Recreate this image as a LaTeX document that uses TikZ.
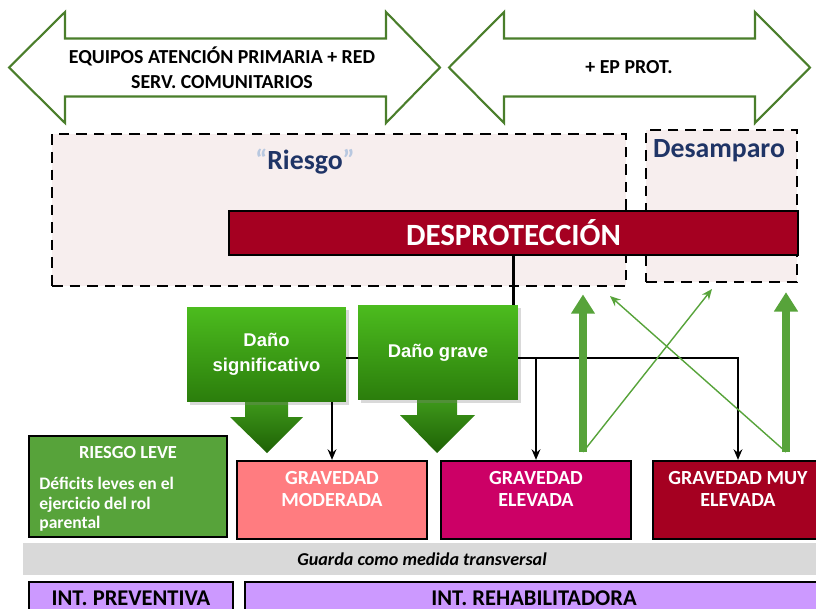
\documentclass[tikz,border=0pt]{standalone}
\usepackage{fontspec}
\setmainfont{Carlito}
\newfontfamily\arialfont{Liberation Sans}
\usepackage{tikz}
\usetikzlibrary{arrows.meta,shadows}

\definecolor{outgreen}{HTML}{4A7E2B}
\definecolor{leafgreen}{HTML}{57A33A}
\definecolor{darkred}{HTML}{A50021}
\definecolor{modpink}{HTML}{FF7C80}
\definecolor{elevpink}{HTML}{CC0066}
\definecolor{navy}{HTML}{1F3466}
\definecolor{quotecol}{HTML}{B8C8E0}
\definecolor{paleback}{HTML}{F7EEEE}
\definecolor{bandgrey}{HTML}{D9D9D9}
\definecolor{lavender}{HTML}{CC99FF}
\definecolor{danotop}{HTML}{4CBC1E}
\definecolor{danobot}{HTML}{2B7D0C}
\definecolor{arrtop}{HTML}{3F9A1B}
\definecolor{arrbot}{HTML}{1E6105}

\begin{document}
\begin{tikzpicture}[x=0.02cm,y=-0.02cm,
    bigarrow/.style={draw=outgreen,line width=1.2pt,fill=white},
    dashbox/.style={draw=black,fill=paleback,line width=1.6pt,dash pattern=on 6pt off 4pt},
    blackbox/.style={draw=black,line width=1.3pt},
    gravtext/.style={text=white,align=center,font=\bfseries\fontsize{11.4pt}{12.6pt}\selectfont}]
\clip (0,0) rectangle (816,609);

% top double arrows
\draw[bigarrow] (9,67.5) -- (65,12) -- (65,38.5) -- (386,38.5) -- (386,12) -- (440,67.5)
    -- (386,123) -- (386,96.5) -- (65,96.5) -- (65,123) -- cycle;
\draw[bigarrow] (449,67.5) -- (504,12) -- (504,38.5) -- (755,38.5) -- (755,12) -- (810,67.5)
    -- (755,123) -- (755,96.5) -- (504,96.5) -- (504,123) -- cycle;
\node[align=center,font=\bfseries\fontsize{11.3pt}{14pt}\selectfont] (equipos) at (222,67.5)
    {EQUIPOS ATENCIÓN PRIMARIA + RED\\SERV. COMUNITARIOS};
\node[font=\bfseries\fontsize{11.3pt}{14pt}\selectfont] (epprot) at (629,67.5) {+ EP PROT.};

% riesgo / desamparo
\node[dashbox,minimum width=11.48cm,minimum height=3.04cm] (riesgo) at (339,210) {};
\node[dashbox,minimum width=3.02cm,minimum height=3.04cm] (desamp) at (721.5,206) {};
\begin{scope}[every node/.style={text=navy,font=\bfseries\fontsize{15.8pt}{18pt}\selectfont}]
    \node (riesgotxt) at (305,162) {\textcolor{quotecol}{“}Riesgo\textcolor{quotecol}{”}};
    \node (desamptxt) at (719,151) {Desamparo};
\end{scope}
\node[blackbox,fill=darkred,text=white,minimum width=11.38cm,minimum height=0.88cm,
    font=\bfseries\fontsize{17.6pt}{20pt}\selectfont] (desprot) at (513.5,233) {DESPROTECCIÓN};

% block arrows under the damage boxes
\shade[top color=arrtop,bottom color=arrbot] (245,400) -- (288,400) -- (288,417) -- (303,417)
    -- (267,453) -- (230,417) -- (245,417) -- cycle;
\shade[top color=arrtop,bottom color=arrbot] (417,398) -- (457,398) -- (457,415) -- (475,415)
    -- (437,453) -- (400,415) -- (417,415) -- cycle;

\begin{scope}[every node/.style={top color=danotop,bottom color=danobot,
    drop shadow={opacity=0.3,shadow xshift=1.5pt,shadow yshift=-1.5pt},
    text=white,align=center,minimum height=1.9cm,font=\arialfont\bfseries\fontsize{10.5pt}{14pt}\selectfont}]
    \node[minimum width=3.18cm] (danosig) at (266.5,354.5) {Daño\\significativo};
    \node[minimum width=3.2cm] (danograve) at (438,352.5) {Daño grave};
\end{scope}

% severity boxes
\node[blackbox,fill=leafgreen,minimum width=3.96cm,minimum height=2.02cm] (leve) at (128,486.5) {};
\node[text=white,font=\bfseries\fontsize{10.5pt}{12pt}\selectfont] (levetit) at (128,453) {RIESGO LEVE};
\node[anchor=north west,inner sep=0pt,text=white,align=left,font=\bfseries\fontsize{10pt}{11pt}\selectfont]
    (levetxt) at (39,477) {Déficits leves en el\\ejercicio del rol\\parental};

\begin{scope}[every node/.style={blackbox,minimum width=3.8cm,minimum height=1.56cm}]
    \node[fill=modpink] (mod) at (332,500) {};
    \node[fill=elevpink] (elev) at (536,500) {};
    \node[fill=darkred,minimum width=3.4cm] (muy) at (738,500) {};
\end{scope}
\node[gravtext] (modtxt) at (332,489) {GRAVEDAD\\MODERADA};
\node[gravtext] (elevtxt) at (536,489) {GRAVEDAD\\ELEVADA};
\node[gravtext] (muytxt) at (738,489) {GRAVEDAD MUY\\ELEVADA};

% bottom bands
\node[fill=bandgrey,minimum width=15.96cm,minimum height=0.64cm,
    font=\bfseries\itshape\fontsize{10.3pt}{12pt}\selectfont] (guarda) at (422,559) {Guarda como medida transversal};
\begin{scope}[every node/.style={blackbox,fill=lavender,minimum height=0.64cm,
    font=\bfseries\fontsize{12.8pt}{14pt}\selectfont}]
    \node[minimum width=4.08cm] (prev) at (131,598) {INT. PREVENTIVA};
    \node[minimum width=11.56cm] (rehab) at (534,598) {INT. REHABILITADORA};
\end{scope}

% connectors
\coordinate (hl) at (0,358);
\coordinate (g1) at (583,452);
\coordinate (g2) at (786,452);
\coordinate (t1) at (712,289);
\coordinate (t2) at (610,296);
\begin{scope}[>={Stealth[black,length=6pt,width=5pt]},
              every edge/.style={draw=black,line width=1.2pt}]
    \path (desprot.south) edge (desprot.south |- danograve.north);
    \path (danosig.east |- hl) edge (danograve.west |- hl);
    \path [->] (danosig.south -| mod.north) edge (mod.north);
    \path [->] (elev.north |- hl) edge (elev.north);
    \draw [->,line width=1.2pt] (danograve.east |- hl) -| (muy.north);
\end{scope}

\begin{scope}[every edge/.style={draw=leafgreen}]
    \path [-{Triangle[width=13pt,length=11pt]},line width=4pt,shorten >=4pt] (g1) edge (g1 |- riesgo.south);
    \path [-{Triangle[width=13pt,length=11pt]},line width=4pt,shorten >=5pt] (g2) edge (g2 |- desamp.south);
    \path [-{Stealth[length=6pt,width=5pt]},line width=0.8pt] (g1) edge (t1);
    \path [-{Stealth[length=6pt,width=5pt]},line width=0.8pt] (g2) edge (t2);
\end{scope}
\end{tikzpicture}
\end{document}
